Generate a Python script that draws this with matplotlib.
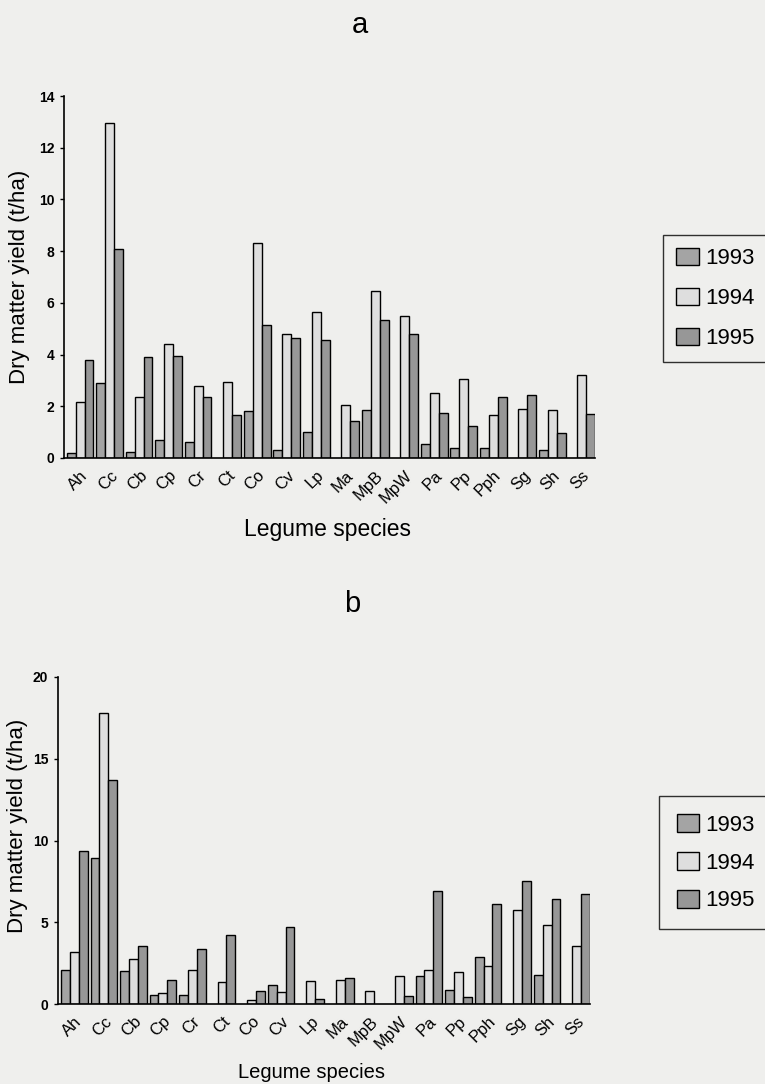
import numpy as np
import matplotlib
matplotlib.use("Agg")
import matplotlib.pyplot as plt
from matplotlib.patches import Patch

plt.rcParams['font.family'] = ['Liberation Sans', 'DejaVu Sans']

nan = np.nan
species = ["Ah", "Cc", "Cb", "Cp", "Cr", "Ct", "Co", "Cv", "Lp", "Ma",
           "MpB", "MpW", "Pa", "Pp", "Pph", "Sg", "Sh", "Ss"]
years = ["1993", "1994", "1995"]

# panel a
a_1993 = [0.2, 2.9, 0.25, 0.7, 0.6, nan, 1.8, 0.3, 1.0, nan, 1.85, nan, 0.55, 0.4, 0.4, nan, 0.3, nan]
a_1994 = [2.15, 12.95, 2.35, 4.4, 2.8, 2.95, 8.3, 4.8, 5.65, 2.05, 6.45, 5.5, 2.5, 3.05, 1.65, 1.9, 1.85, 3.2]
a_1995 = [3.8, 8.1, 3.9, 3.95, 2.35, 1.65, 5.15, 4.65, 4.55, 1.45, 5.35, 4.8, 1.75, 1.25, 2.35, 2.45, 0.95, 1.7]

# panel b
b_1993 = [2.05, 8.95, 2.0, 0.57, 0.57, nan, nan, 1.18, nan, nan, nan, nan, 1.69, 0.87, 2.9, nan, 1.8, nan]
b_1994 = [3.15, 17.8, 2.77, 0.67, 2.1, 1.32, 0.22, 0.73, 1.42, 1.44, 0.77, 1.69, 2.1, 1.93, 2.34, 5.76, 4.84, 3.56]
b_1995 = [9.38, 13.73, 3.52, 1.49, 3.38, 4.23, 0.81, 4.7, 0.3, 1.59, nan, 0.51, 6.92, 0.41, 6.12, 7.55, 6.41, 6.73]

colors = ["#a4a4a4", "#dedede", "#979797"]
bg = "#efefed"
W, H = 765, 1084

fig = plt.figure(figsize=(W / 100, H / 100), dpi=100, facecolor=bg)


def px(x, y):
    # pixel position (from top-left) to figure fraction
    return x / W, 1 - y / H


def panel(rect, series, ymax, yticks, letter, letter_xy, xlab, ylab, leg_opts):
    ax = fig.add_axes(rect)
    ax.set_facecolor("none")
    x = np.arange(len(species))
    w = 0.3
    for j, vals in enumerate(series):
        ax.bar(x + (j - 1) * w, vals, width=w, color=colors[j],
               edgecolor="black", linewidth=1.0)
    ax.set_xlim(-0.55, 17.45)
    ax.set_ylim(0, ymax)
    ax.set_yticks(yticks)
    ax.set_xticks(x)
    ax.set_xticklabels(species, rotation=45, ha="right", rotation_mode="anchor",
                       fontsize=12)
    ax.tick_params(axis="x", length=0, pad=7)
    ax.tick_params(axis="y", length=3, width=1, labelsize=10, pad=4)
    for t in ax.get_yticklabels():
        t.set_fontweight("bold")
    for s in ["top", "right"]:
        ax.spines[s].set_visible(False)
    ax.spines["left"].set_linewidth(1.2)
    ax.spines["bottom"].set_linewidth(1.2)

    fig.text(*px(*letter_xy), letter, fontsize=21, ha="center", va="center")
    fig.text(*px(xlab[0], xlab[1]), "Legume species", fontsize=xlab[2],
             ha="center", va="center")
    fig.text(*px(*ylab), "Dry matter yield (t/ha)", fontsize=16,
             ha="center", va="center", rotation=90)

    handles = [Patch(facecolor=colors[k], edgecolor="black", linewidth=1)
               for k in range(3)]
    leg = fig.legend(handles, years, loc="upper left",
                     bbox_to_anchor=px(leg_opts[0], leg_opts[1]),
                     fontsize=16, frameon=True, fancybox=False,
                     handlelength=1.0, handleheight=leg_opts[2],
                     handletextpad=0.3, labelspacing=leg_opts[3],
                     borderpad=leg_opts[4], borderaxespad=0)
    leg.get_frame().set_edgecolor("black")
    leg.get_frame().set_linewidth(1.0)
    leg.get_frame().set_facecolor(bg)
    return ax


panel([64 / W, 1 - 458 / H, 531 / W, 362 / H], [a_1993, a_1994, a_1995], 14,
      range(0, 15, 2), "a", (360, 25), (328, 530, 16.5), (20, 277),
      (663, 235, 0.75, 0.85, 0.6))
panel([58 / W, 1 - 1004 / H, 532 / W, 327 / H], [b_1993, b_1994, b_1995], 20,
      range(0, 21, 5), "b", (352, 604), (311, 1072, 14.5), (18, 826),
      (659, 796, 0.9, 0.72, 0.8))

fig.savefig("out.png", dpi=100, facecolor=bg)
